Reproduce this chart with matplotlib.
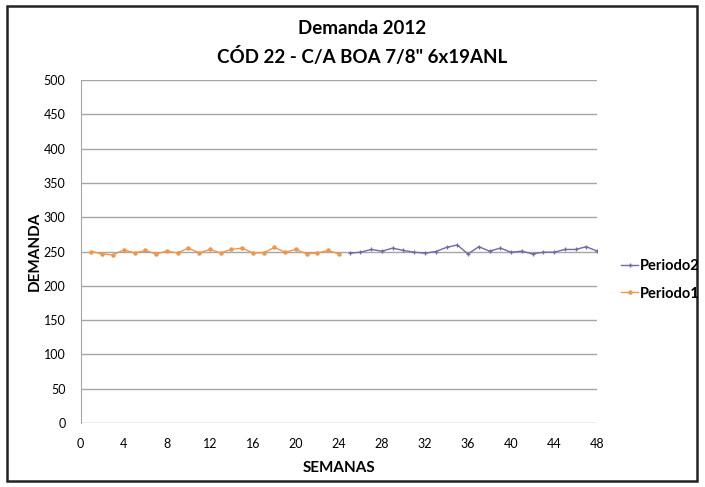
import matplotlib
matplotlib.use("Agg")
import matplotlib.pyplot as plt
from matplotlib.patches import Rectangle
from matplotlib.lines import Line2D

plt.rcParams['font.family'] = ['Lato', 'DejaVu Sans']

weeks_p1 = list(range(1, 25))
periodo1 = [250, 246.5, 245, 252.5, 248, 251.5, 246.5, 250.5, 248, 255, 248, 253,
            248, 253, 255, 248, 248, 256, 249, 253, 246.5, 248, 251.5, 246.5]
weeks_p2 = list(range(25, 49))
periodo2 = [247.5, 249, 253, 250.5, 255, 251.5, 249, 247.5, 250, 256, 259.5, 246.5,
            257, 250.5, 255, 249, 250.5, 246.5, 249, 249, 253, 253, 257, 250.5]

title_lines = ["Demanda 2012", "CÓD 22 - C/A BOA 7/8\" 6x19ANL"]
x_ticks = list(range(0, 49, 4))
y_ticks = list(range(0, 501, 50))

c_p1 = "#F0964A"
c_p2 = "#7468A8"

fig = plt.figure(figsize=(7.05, 4.87), dpi=100)
ax = fig.add_axes([0.1145, 0.1314, 0.7325, 0.7043])

ax.plot(weeks_p2, periodo2, color=c_p2, lw=1.0, marker='+', ms=3.5, mew=0.9, zorder=3)
ax.plot(weeks_p1, periodo1, color=c_p1, lw=1.0, marker='o', ms=2.2, zorder=4)

ax.set_xlim(0, 48)
ax.set_ylim(0, 500)
ax.set_xticks(x_ticks)
ax.set_yticks(y_ticks)
ax.tick_params(axis='x', length=0, labelsize=9, pad=11)
ax.tick_params(axis='y', length=0, labelsize=9, pad=11)
ax.grid(axis='y', color='#A6A6A6', lw=1)
ax.set_axisbelow(True)
for s in ['top', 'right', 'bottom']:
    ax.spines[s].set_visible(False)
ax.spines['left'].set_color('#A6A6A6')

ax.set_xlabel("SEMANAS", fontsize=11, fontweight='bold', labelpad=8)
ax.set_ylabel("DEMANDA", fontsize=11, fontweight='bold', labelpad=1.5)

cx = 362 / 705
fig.text(cx, 1 - 28 / 487, title_lines[0], ha='center', va='center',
         fontsize=13.5, fontweight='bold')
fig.text(cx, 1 - 57 / 487, title_lines[1], ha='center', va='center',
         fontsize=13.5, fontweight='bold')

handles = [Line2D([], [], color=c_p2, lw=1.0, marker='+', ms=3.5),
           Line2D([], [], color=c_p1, lw=1.0, marker='o', ms=2.2)]
fig.legend(handles, ["Periodo2", "Periodo1"], loc='center left',
           bbox_to_anchor=(0.862, 1 - 280 / 487), frameon=False, handlelength=1.2,
           handletextpad=0.1, labelspacing=0.9, prop={'size': 10.5, 'weight': 'bold'})

fig.patches.append(Rectangle((7 / 705, 6 / 487), 690 / 705, 475 / 487, transform=fig.transFigure,
                             fill=False, edgecolor='#222222', lw=1.8))

fig.savefig("out.png", dpi=100)
